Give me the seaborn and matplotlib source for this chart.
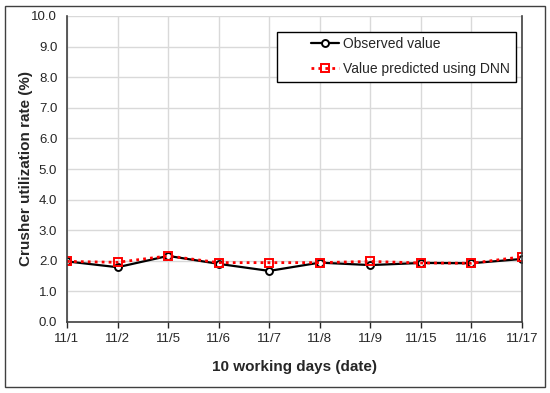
import pandas as pd
import matplotlib
matplotlib.use('Agg')
import matplotlib.pyplot as plt
import seaborn as sns

# Data
dates = ['11/1', '11/2', '11/5', '11/6', '11/7', '11/8', '11/9', '11/15', '11/16', '11/17']
observed = [1.98, 1.79, 2.16, 1.90, 1.67, 1.94, 1.86, 1.93, 1.92, 2.06]
predicted = [1.98, 1.95, 2.16, 1.94, 1.94, 1.94, 1.98, 1.93, 1.92, 2.13]

sns.set_style('white')
plt.rcParams['font.family'] = ['Liberation Sans', 'DejaVu Sans']

df = pd.DataFrame({'date': dates, 'observed': observed, 'predicted': predicted})

fig = plt.figure(figsize=(5.5, 3.93), dpi=100)
ax = fig.add_axes([67 / 550, 1 - 322 / 393, (522 - 67) / 550, (322 - 16) / 393])

sns.lineplot(
    data=df, x='date', y='observed', ax=ax, sort=False,
    color='black', linewidth=1.6, marker='o', markersize=5,
    markerfacecolor='white', markeredgecolor='black', markeredgewidth=1.4,
    label='Observed value'
)
sns.lineplot(
    data=df, x='date', y='predicted', ax=ax, sort=False,
    color='red', linewidth=2, linestyle=(0, (1, 1.5)), marker='s', markersize=6,
    markerfacecolor='none', markeredgecolor='red', markeredgewidth=1.4,
    label='Value predicted using DNN'
)

ax.set_ylim(0, 10)
ax.set_xlim(0, len(dates) - 1)
ax.set_yticks([i for i in range(11)])
ax.set_yticklabels([f'{i:.1f}' for i in range(11)], fontsize=9.5)
ax.tick_params(axis='x', labelsize=9.5, direction='out', length=4, width=1, bottom=True, pad=4)
ax.tick_params(axis='y', length=0, pad=7)

ax.grid(True, color='#d9d9d9', linewidth=1)
ax.set_axisbelow(True)
for side in ['left', 'bottom', 'right']:
    ax.spines[side].set_color('#404040')
    ax.spines[side].set_linewidth(1.2)
ax.spines['top'].set_visible(False)

ax.set_xlabel('10 working days (date)', fontsize=11, fontweight='bold')
ax.set_ylabel('Crusher utilization rate (%)', fontsize=11, fontweight='bold')
ax.xaxis.set_label_coords(0.5, -0.125)
ax.yaxis.set_label_coords(-0.075, 0.5)

# Excel-style legend: frameless entries inside a wider box
leg = ax.legend(
    loc='center left', bbox_to_anchor=(0.537, 0.8676), fontsize=10,
    frameon=False, borderpad=0, borderaxespad=0,
    labelspacing=0.8, handlelength=2.0, handletextpad=0.25
)
ax.add_patch(plt.Rectangle((0.4626, 0.7843), 0.9868 - 0.4626, 0.9477 - 0.7843,
                           transform=ax.transAxes, facecolor='white',
                           edgecolor='black', linewidth=1, zorder=4))
leg.set_zorder(5)

fig.patches.append(plt.Rectangle((5 / 550, 6 / 393), 540 / 550, 381 / 393,
                                 transform=fig.transFigure, fill=False,
                                 edgecolor='#404040', linewidth=1))

fig.savefig('out.png', dpi=100)
